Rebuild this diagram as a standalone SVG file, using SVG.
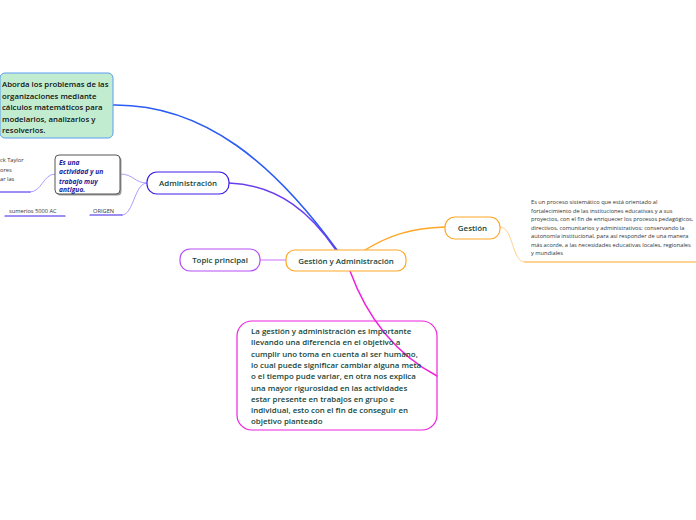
<svg xmlns="http://www.w3.org/2000/svg" width="696" height="520" viewBox="0 0 696 520">
<defs>
<style>
.node{font-family:"Open Sans","Noto Sans",sans-serif;}
.t{font-family:"Open Sans","Noto Sans",sans-serif;font-size:7.9px;fill:#17463a;font-weight:600;}
.small{font-family:"Open Sans","Noto Sans",sans-serif;font-size:5.7px;fill:#333;}
.cn{fill:none;stroke-linecap:round;}
</style>
</defs>
<rect width="696" height="520" fill="#ffffff"/>
<g id="connectors">
<path class="cn" d="M113,105 C205,104 275,165 337,250" stroke="#2a5cf5" stroke-width="1.6"/>
<path class="cn" d="M229,183 C280,185 312,215 336,250" stroke="#6a3cf0" stroke-width="1.5"/>
<path class="cn" d="M260,260 L286,260" stroke="#d070f8" stroke-width="1"/>
<path class="cn" d="M365,250 C388,236 410,228 445,227" stroke="#ffa726" stroke-width="1.4"/>
<path class="cn" d="M350,271 C365,312 392,352 437,376" stroke="#ee22dd" stroke-width="1.5"/>
<path class="cn" d="M147,183 C134,183 134,174 120,174" stroke="#a690ff" stroke-width="0.9"/>
<path class="cn" d="M147,183 C134,183 134,215 122,215" stroke="#a690ff" stroke-width="0.9"/>
<path class="cn" d="M122,215 L90,215" stroke="#3a1ee8" stroke-width="1.2"/>
<path class="cn" d="M65,216 L5,216" stroke="#3a1ee8" stroke-width="1.2"/>
<path class="cn" d="M55,174 C43,174 42,192 30,192" stroke="#a690ff" stroke-width="0.9"/>
<path class="cn" d="M30,192 L0,192" stroke="#3a1ee8" stroke-width="1.2"/>
<path class="cn" d="M500,227 C514,227 511,262 525,262" stroke="#ffcc80" stroke-width="0.9"/>
<path class="cn" d="M525,262 L696,262" stroke="#ffa726" stroke-width="1.2"/>
</g>
<g id="green-box">
<rect x="0" y="73" width="113" height="65" rx="5" fill="#c2ecd0" stroke="#5b9cf0" stroke-width="1"/>
<text class="node" font-size="7.8" font-weight="600" fill="#111">
<tspan x="2" y="87">Aborda los problemas de las</tspan>
<tspan x="2" y="98.5">organizaciones mediante</tspan>
<tspan x="2" y="110">cálculos matemáticos para</tspan>
<tspan x="2" y="121.5">modelarlos, analizarlos y</tspan>
<tspan x="2" y="133">resolverlos.</tspan>
</text>
</g>
<g id="administracion">
<rect x="147" y="172" width="82" height="22" rx="10" fill="#ffffff" stroke="#3a1ee8" stroke-width="1.2"/>
<text class="t" x="188" y="186" text-anchor="middle">Administración</text>
</g>
<g id="es-una">
<rect x="56.5" y="156.5" width="65" height="39" rx="4" fill="#9a9a9a"/>
<rect x="55" y="155" width="65" height="39" rx="4" fill="#ffffff" stroke="#555" stroke-width="1"/>
<text class="node" font-size="6.7" font-weight="700" font-style="italic" fill="#1a1a9a">
<tspan x="59" y="164.5">Es una</tspan>
<tspan x="59" y="174"> actividad y un</tspan>
<tspan x="59" y="183.5">trabajo muy</tspan>
<tspan x="59" y="192">antiguo.</tspan>
</text>
</g>
<g id="taylor">
<text class="small" x="0" y="162">ck Taylor</text>
<text class="small" x="0" y="171.5">ores</text>
<text class="small" x="0" y="181">ar las</text>
</g>
<g id="origen">
<text class="small" x="93" y="212.5">ORIGEN</text>
</g>
<g id="sumerios">
<text class="small" x="9" y="212.5">sumerios 5000 AC</text>
</g>
<g id="topic-principal">
<rect x="180" y="249" width="80" height="22" rx="10" fill="#ffffff" stroke="#b84cf5" stroke-width="1.2"/>
<text class="t" x="220" y="263" text-anchor="middle">Topic principal</text>
</g>
<g id="central">
<rect x="286" y="250" width="120" height="21" rx="9" fill="#ffffff" stroke="#ffa726" stroke-width="1.2"/>
<text class="t" x="346" y="263.5" text-anchor="middle">Gestión y Administración</text>
</g>
<g id="gestion">
<rect x="445" y="217" width="55" height="22" rx="10" fill="#ffffff" stroke="#ffa726" stroke-width="1.2"/>
<text class="t" x="472.5" y="231" text-anchor="middle">Gestión</text>
</g>
<g id="gestion-text">
<text class="small">
<tspan x="531" y="204">Es un proceso sistemático que está orientado al</tspan>
<tspan x="531" y="212.5">fortalecimiento de las instituciones educativas y a sus</tspan>
<tspan x="531" y="221">proyectos, con el fin de enriquecer los procesos pedagógicos,</tspan>
<tspan x="531" y="229.5">directivos, comunitarios y administrativos; conservando la</tspan>
<tspan x="531" y="238">autonomía institucional, para así responder de una manera</tspan>
<tspan x="531" y="246.5">más acorde, a las necesidades educativas locales, regionales</tspan>
<tspan x="531" y="255">y mundiales</tspan>
</text>
</g>
<g id="pink-box">
<rect x="237" y="321" width="200" height="109" rx="15" fill="none" stroke="#ee22dd" stroke-width="1.2"/>
<text class="t" font-size="7.7">
<tspan x="251" y="334">La gestión y administración es importante</tspan>
<tspan x="251" y="345.3">llevando una diferencia en el objetivo a</tspan>
<tspan x="251" y="356.6">cumplir uno toma en cuenta al ser humano,</tspan>
<tspan x="251" y="367.9">lo cual puede significar cambiar alguna meta</tspan>
<tspan x="251" y="379.2">o el tiempo pude variar, en otra nos explica</tspan>
<tspan x="251" y="390.5">una mayor rigurosidad en las actividades</tspan>
<tspan x="251" y="401.8">estar presente en trabajos en grupo e</tspan>
<tspan x="251" y="413.1">individual, esto con el fin de conseguir en</tspan>
<tspan x="251" y="424.4">objetivo planteado</tspan>
</text>
</g>
</svg>
